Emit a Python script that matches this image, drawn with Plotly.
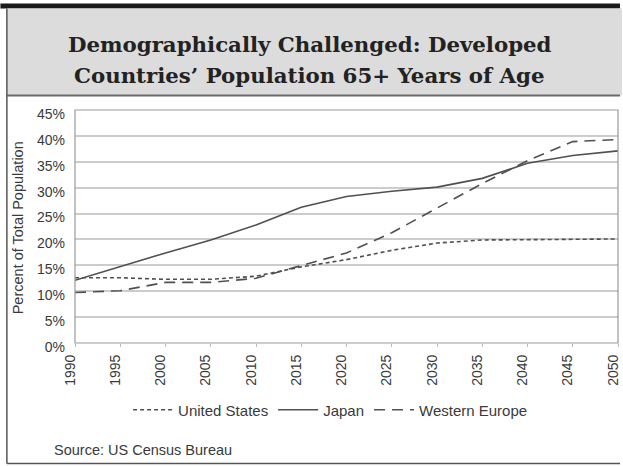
import plotly.graph_objects as go

years = [1990, 1995, 2000, 2005, 2010, 2015, 2020, 2025, 2030, 2035, 2040, 2045, 2050]
united_states = [12.6, 12.6, 12.3, 12.3, 12.9, 14.7, 16.1, 17.9, 19.3, 19.9, 19.95, 20.0, 20.1]
japan = [12.1, 14.8, 17.4, 19.9, 22.8, 26.2, 28.3, 29.3, 30.1, 31.8, 34.7, 36.2, 37.1]
western_europe = [9.75, 10.1, 11.7, 11.7, 12.5, 14.9, 17.4, 21.3, 26.0, 30.8, 35.2, 38.9, 39.3]
y_ticks = [0, 5, 10, 15, 20, 25, 30, 35, 40, 45]
y_tick_labels = [f"{v}%" for v in y_ticks]
x_tick_labels = [str(y) for y in years]
title_lines = ["Demographically Challenged: Developed", "Countries’ Population 65+ Years of Age"]

W, H = 623, 466
ML, MR, MT, MB = 75, 2, 110, 123
PW = W - ML - MR
PH = H - MT - MB


def px(x):
    return (x - ML) / PW


def py(y):
    return (H - MB - y) / PH


LINE = "#505050"
TEXT = "#3a3a3a"
SANS = "Liberation Sans, Arial, sans-serif"

fig = go.Figure()
fig.add_trace(go.Scatter(x=years, y=united_states, mode="lines", name="United States",
                         line=dict(color=LINE, width=1.6, dash="4px,3px")))
fig.add_trace(go.Scatter(x=years, y=japan, mode="lines", name="Japan",
                         line=dict(color=LINE, width=1.6, dash="solid")))
fig.add_trace(go.Scatter(x=years, y=western_europe, mode="lines", name="Western Europe",
                         line=dict(color=LINE, width=1.6, dash="11px,7px")))

shapes = [
    dict(type="rect", xref="paper", yref="paper", x0=px(0), x1=px(W), y0=py(8.5), y1=py(3.5),
         fillcolor="#1a1a1a", line=dict(width=0), layer="below"),
    dict(type="rect", xref="paper", yref="paper", x0=px(6.5), x1=px(W + 2), y0=py(95.5), y1=py(8.5),
         fillcolor="#dcdcdc", line=dict(width=0), layer="below"),
    dict(type="line", xref="paper", yref="paper", x0=px(6.5), x1=px(W), y0=py(95.5), y1=py(95.5),
         line=dict(color="#6a6a6a", width=2)),
    dict(type="line", xref="paper", yref="paper", x0=px(6.5), x1=px(6.5), y0=py(463.5), y1=py(8.5),
         line=dict(color="#555555", width=1.5)),
    dict(type="line", xref="paper", yref="paper", x0=px(6.5), x1=px(W), y0=py(463.5), y1=py(463.5),
         line=dict(color="#555555", width=1.5)),
    dict(type="rect", xref="paper", yref="paper", x0=0, x1=1, y0=0, y1=1,
         line=dict(color="#9a9a9a", width=1.2), fillcolor="rgba(0,0,0,0)"),
]

annotations = [
    dict(text=f"<b>{title_lines[0]}</b>", xref="paper", yref="paper", x=px(311), y=py(45),
         xanchor="center", yanchor="middle", showarrow=False,
         font=dict(family="DejaVu Serif, serif", size=21.3, color="#222222")),
    dict(text=f"<b>{title_lines[1]}</b>", xref="paper", yref="paper", x=px(311), y=py(76),
         xanchor="center", yanchor="middle", showarrow=False,
         font=dict(family="DejaVu Serif, serif", size=21.3, color="#222222")),
    dict(text="Percent of Total Population", xref="paper", yref="paper", x=px(18), y=py(228),
         xanchor="center", yanchor="middle", textangle=-90, showarrow=False,
         font=dict(family=SANS, size=14.5, color=TEXT)),
    dict(text="Source: US Census Bureau", xref="paper", yref="paper", x=px(52), y=py(450),
         xanchor="left", yanchor="middle", showarrow=False,
         font=dict(family=SANS, size=14.5, color=TEXT)),
]

fig.update_layout(
    width=W, height=H,
    margin=dict(l=ML, r=MR, t=MT, b=MB),
    paper_bgcolor="white", plot_bgcolor="white",
    showlegend=True,
    legend=dict(orientation="h", x=px(332), y=py(410), xanchor="center", yanchor="middle",
                font=dict(family=SANS, size=15, color=TEXT), itemwidth=40,
                tracegroupgap=0, bgcolor="rgba(0,0,0,0)"),
    shapes=shapes,
    annotations=annotations,
    xaxis=dict(range=[1990, 2050], tickmode="array", tickvals=years, ticktext=x_tick_labels,
               tickangle=-90, showgrid=False, zeroline=False, showline=False,
               ticks="outside", ticklen=3, tickcolor="#bbbbbb",
               ticklabelshift=-5, ticklabeloverflow="allow", ticklabelstandoff=2,
               tickfont=dict(family=SANS, size=14, color=TEXT)),
    yaxis=dict(range=[0, 45], tickmode="array", tickvals=y_ticks, ticktext=y_tick_labels,
               showgrid=True, gridcolor="#cccccc", gridwidth=1.6, zeroline=False, showline=False,
               ticks="", ticklabelshift=4, ticklabelstandoff=9,
               tickfont=dict(family=SANS, size=14, color=TEXT)),
)

fig.write_html("out.html")
